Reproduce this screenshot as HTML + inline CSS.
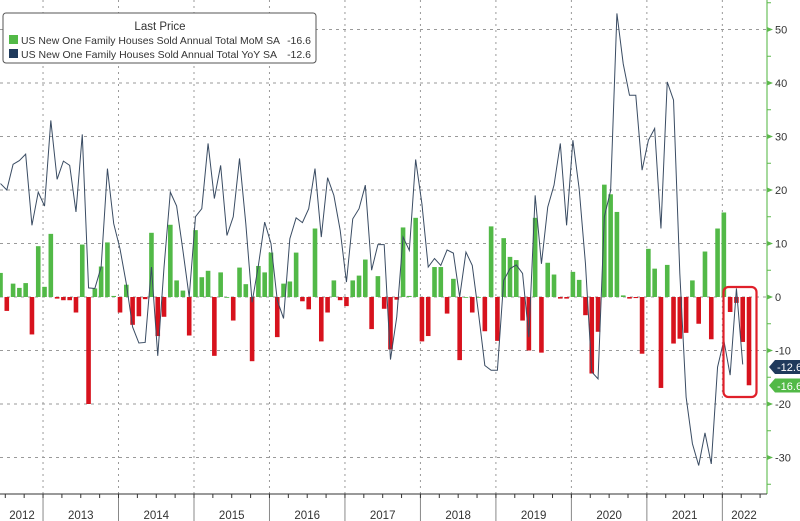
<!DOCTYPE html>
<html><head><meta charset="utf-8"><style>
html,body{margin:0;padding:0;background:#fff;}
svg{display:block;font-family:"Liberation Sans",sans-serif;}
</style></head><body>
<svg id="c" width="800" height="521" viewBox="0 0 800 521" xmlns="http://www.w3.org/2000/svg"></svg>
<script>
const mom=[4.5,-2.6,2.5,1.7,2.6,-7,9.5,1.9,11.8,-0.3,-0.6,-0.6,-2.9,9.8,-20,1.6,5.7,10.2,0.2,-2.9,2.3,-5.2,-3.6,-0.4,12,-7.3,-3.7,13.5,3.1,1.2,-7.2,12.5,3.7,4.9,-11,4.6,0,-4.4,5.5,2.4,-12,5.8,4.6,8.3,-7.5,2.5,2.9,8.3,-0.8,-2.3,12.8,-8.3,-2.9,3.1,-0.6,-1.7,3.1,4,7,-6,3.9,-2.2,-9.8,-0.5,13,0.2,14.8,-8.3,-7.3,5.6,5.6,-3.1,3.4,-11.8,0,-2.9,0,-6.4,13.2,-8.2,11,7.5,6.9,-4.4,-10,14.8,-10.4,6.4,4.2,-0.3,-0.3,4.7,3.2,-3.4,-14.3,-6.5,21,19.2,15.9,0.3,-0.3,-0.2,-10.6,9,5.3,-17,6,-8.7,-7.8,-6.7,3.1,-5,8.5,-7.9,12.8,15.8,-2.8,-1.1,-8.4,-16.5];
const yoy=[21.2,20,24.8,25.5,26.7,13.4,19.6,17,33,22,25.4,24.6,15.9,30.4,1.7,1.6,5.6,24,13.7,9,2.5,-5.6,-8.6,-8.5,5.6,-11,5.6,19.6,17,8.7,0,15,16.5,28.7,18.4,24.6,11.5,15,25.9,13.7,-1,5.9,14,10,-0.6,-4,10.9,14.8,13.9,16.5,24,11.2,22.3,19,12.5,2.8,14.6,16.5,20.9,5,9.8,9.8,-11.7,-3.7,11.2,8.7,25.7,17.4,5.6,7.2,5.9,8.8,8.2,0,8.4,5.9,-3.1,-12.8,-13.7,-13.7,3.1,5.3,6,4.4,-7.5,19,6.2,16.8,20.9,28.7,13.4,29.3,20.2,6.2,-14,-15.3,15,19.9,53,43.6,37.7,37.7,23.7,29.3,31.5,12.8,40.2,36.8,4.4,-18.7,-27.4,-31.5,-25.4,-31.2,-13.1,-8.1,-14.6,1.6,-12.6];
const X=i=>6.29*i+0.5, Y=v=>297-5.35*v;
let s='';
for(let v=50;v>=-30;v-=10){s+=`<line x1="0" x2="767" y1="${Y(v)}" y2="${Y(v)}" stroke="#9a9a9a" stroke-width="1" stroke-dasharray="3,4"/>`;}
const yrs=['2013','2014','2015','2016','2017','2018','2019','2020','2021','2022'];
let bx=[];
for(let k=0;k<10;k++){const x=X(7+12*k)-1.5;bx.push(x);
 s+=`<line x1="${x}" x2="${x}" y1="0" y2="494" stroke="#9a9a9a" stroke-width="1" stroke-dasharray="2,4"/>`;
 s+=`<line x1="${x}" x2="${x}" y1="494" y2="521" stroke="#888" stroke-width="1"/>`;}
mom.forEach((v,i)=>{const x=X(i)-2.3,y=v>=0?Y(v):297,h=Math.max(Math.abs(v)*5.35,0.8);
 s+=`<rect x="${x}" y="${y}" width="4.6" height="${h}" fill="${v>=0?'#52b947':'#d7121d'}"/>`;});
s+=`<polyline fill="none" stroke="#3a4c63" stroke-width="1" points="${yoy.map((v,i)=>X(i)+','+Y(v)).join(' ')}"/>`;
s+=`<rect x="723.5" y="287" width="33" height="110" rx="5" fill="none" stroke="#e0202a" stroke-width="2.2"/>`;
s+=`<line x1="767" x2="767" y1="0" y2="494" stroke="#6cc05c" stroke-width="1.2"/>`;
for(let v=55;v>=-35;v-=5){const y=Y(v);
 if(v%10===0){s+=`<path d="M767,${y-2.5} L773,${y} L767,${y+2.5}Z" fill="#5cb84c"/><text x="775" y="${y+4}" font-size="11" fill="#333">${v}</text>`;}
 else s+=`<line x1="767" x2="771" y1="${y}" y2="${y}" stroke="#5cb84c"/>`;}
s+=`<path d="M769,367 L775,360 L800,360 L800,374 L775,374Z" fill="#1f3a5c"/><text x="777" y="371" font-size="11" fill="#fff">-12.6</text>`;
s+=`<path d="M769,385.5 L775,378.5 L800,378.5 L800,392.5 L775,392.5Z" fill="#52b947"/><text x="777" y="390" font-size="11" fill="#fff">-16.6</text>`;
s+=`<line x1="0" x2="767" y1="494" y2="494" stroke="#333" stroke-width="1"/>`;
for(let i=1;i<122;i+=3){const x=X(i)-1.5;s+=`<line x1="${x}" x2="${x}" y1="494" y2="498" stroke="#333"/>`;}
const labs=[['2012',22]];
for(let k=0;k<9;k++)labs.push([yrs[k],(bx[k]+bx[k+1])/2]);
labs.push(['2022',744]);
labs.forEach(([t,x])=>{s+=`<text x="${x}" y="519" font-size="11.5" fill="#333" text-anchor="middle">${t}</text>`;});
s+=`<rect x="3" y="13" width="313" height="50" rx="3" fill="#fff" stroke="#555" stroke-width="1"/>`;
s+=`<text x="160" y="30" font-size="11.5" fill="#333" text-anchor="middle">Last Price</text>`;
s+=`<rect x="9" y="35" width="9" height="9" fill="#52b947"/><text x="21" y="44" font-size="10.5" fill="#333" textLength="259" lengthAdjust="spacingAndGlyphs">US New One Family Houses Sold Annual Total MoM SA</text><text x="311" y="44" font-size="10.5" fill="#333" text-anchor="end">-16.6</text>`;
s+=`<rect x="9" y="49" width="9" height="9" fill="#1f3a5c"/><text x="21" y="58" font-size="10.5" fill="#333" textLength="256" lengthAdjust="spacingAndGlyphs">US New One Family Houses Sold Annual Total YoY SA</text><text x="311" y="58" font-size="10.5" fill="#333" text-anchor="end">-12.6</text>`;
document.getElementById('c').innerHTML=s;
</script>
</body></html>
